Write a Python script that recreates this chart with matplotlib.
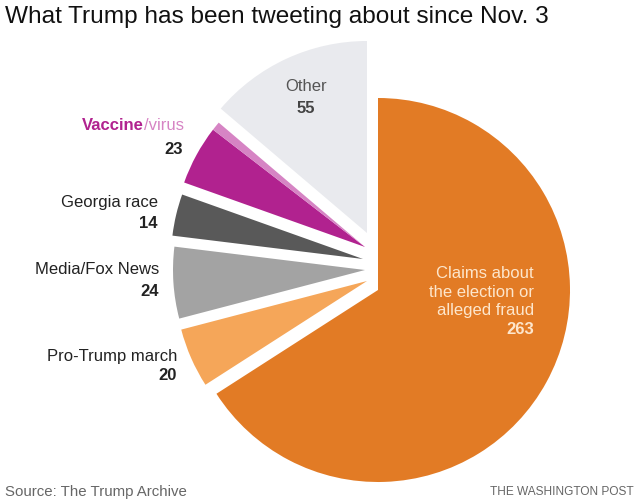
import matplotlib
matplotlib.use("Agg")
import matplotlib.pyplot as plt

# ---- data ----
categories = ["Claims about the election or alleged fraud", "Pro-Trump march",
              "Media/Fox News", "Georgia race", "Vaccine", "virus", "Other"]
values = [263, 20, 24, 14, 20, 3, 55]
label_names = ["Claims about\nthe election or\nalleged fraud", "Pro-Trump march",
               "Media/Fox News", "Georgia race", "Vaccine/virus", "Other"]
label_values = [263, 20, 24, 14, 23, 55]

# ---- styles / layout ----
colors = ["#e27b25", "#f5a659", "#a3a3a3", "#595959", "#b1228f", "#d684c4", "#e9eaee"]
W, H = 640, 504
R = 192
apex = (378, 290)  # pixel coords of orange slice apex
# per-slice displacement (pixels, screen y-down)
shifts = [(0, 0), (-11, -9), (-13, -20), (-15, -31), (-13, -43), (-13, -43), (-11, -57)]

fig = plt.figure(figsize=(W / 100, H / 100), dpi=100)
ax = fig.add_axes([0, 0, 1, 1])

def sy(y):
    return H - y

wedges, _ = ax.pie(values, colors=colors, startangle=90, counterclock=False,
                   radius=R, center=(apex[0], sy(apex[1])),
                   wedgeprops=dict(linewidth=0))
for w, (dx, dy) in zip(wedges, shifts):
    w.set_center((apex[0] + dx, sy(apex[1] + dy)))

ax.set_xlim(0, W)
ax.set_ylim(0, H)
ax.set_aspect("auto")
ax.axis("off")

FONT = "Liberation Sans"
txt = "#222222"
fs = 12

# Title
ax.text(5, sy(17), "What Trump has been tweeting about since Nov. 3",
        fontsize=17.6, family=FONT, color="#111111",
        ha="left", va="center")

# Other
ax.text(306, sy(86.5), label_names[5], fontsize=fs, family=FONT, color="#555555",
        ha="center", va="center")
ax.text(306, sy(108.5), str(label_values[5]), fontsize=fs, family=FONT, color="#444444",
        fontweight="bold", ha="center", va="center")

# Vaccine/virus (two colours)
t_virus = ax.text(184, sy(126), "/virus", fontsize=fs, family=FONT, color="#d684c4",
                  ha="right", va="center")
fig.canvas.draw()
bb = t_virus.get_window_extent()
ax.text(bb.x0, sy(126), "Vaccine", fontsize=fs, family=FONT, color="#b1228f",
        fontweight="bold", ha="right", va="center")
ax.text(183, sy(149), str(label_values[4]), fontsize=fs, family=FONT, color=txt,
        fontweight="bold", ha="right", va="center")

# Georgia race
ax.text(158, sy(203), label_names[3], fontsize=fs, family=FONT, color=txt,
        ha="right", va="center")
ax.text(158, sy(224), str(label_values[3]), fontsize=fs, family=FONT, color=txt,
        fontweight="bold", ha="right", va="center")

# Media/Fox News
ax.text(159, sy(270), label_names[2], fontsize=fs, family=FONT, color=txt,
        ha="right", va="center")
ax.text(159, sy(291.5), str(label_values[2]), fontsize=fs, family=FONT, color=txt,
        fontweight="bold", ha="right", va="center")

# Pro-Trump march
ax.text(177, sy(356), label_names[1], fontsize=fs, family=FONT, color=txt,
        ha="right", va="center")
ax.text(177, sy(376), str(label_values[1]), fontsize=fs, family=FONT, color=txt,
        fontweight="bold", ha="right", va="center")

# Claims label inside orange
cream = "#fde6cc"
for i, line in enumerate(label_names[0].split("\n")):
    ax.text(534, sy(274 + i * 18.5), line, fontsize=fs, family=FONT, color=cream,
            ha="right", va="center")
ax.text(534, sy(329.5), str(label_values[0]), fontsize=fs, family=FONT, color=cream,
        fontweight="bold", ha="right", va="center")

# Footer
ax.text(5, sy(492), "Source: The Trump Archive", fontsize=10.8, family=FONT,
        color="#666666", ha="left", va="center")
ax.text(634, sy(492), "THE WASHINGTON POST", fontsize=8.6, family=FONT,
        color="#666666", ha="right", va="center")

fig.savefig("out.png", dpi=100)
